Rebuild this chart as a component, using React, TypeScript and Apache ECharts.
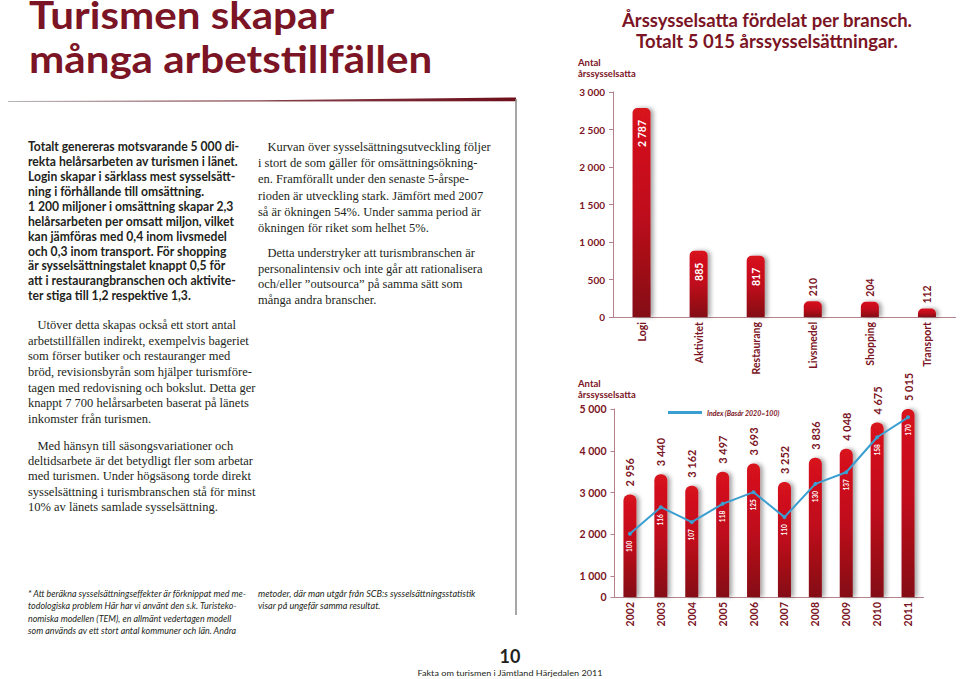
import React, { useEffect, useRef } from "react";
import * as echarts from "echarts";

const sectorCategories = ["Logi", "Aktivitet", "Restaurang", "Livsmedel", "Shopping", "Transport"];
const sectorValues = [2787, 885, 817, 210, 204, 112];
const sectorInsideLabel = [true, true, true, false, false, false];

const years = ["2002", "2003", "2004", "2005", "2006", "2007", "2008", "2009", "2010", "2011"];
const employedValues = [2956, 3440, 3162, 3497, 3693, 3252, 3836, 4048, 4675, 5015];
const indexValues = [100, 116, 107, 118, 125, 110, 130, 137, 158, 170];
const yearAxisLabels = [500, 1000, 2000, 3000, 4000, 5000]; // 500 is the axis floor, shown as "0"

const pageTitle = ["Turismen skapar", "många arbetstillfällen"];
const chartTitle = ["Årssysselsatta fördelat per bransch.", "Totalt 5 015 årssysselsättningar."];
const axisName = "Antal\nårssysselsatta";
const legendName = "Index (Basår 2020=100)";

const boldParagraph = [
  "Totalt genereras motsvarande 5 000 di-",
  "rekta helårsarbeten av turismen i länet.",
  "Login skapar i särklass mest sysselsätt-",
  "ning i förhållande till omsättning.",
  "1 200 miljoner i omsättning skapar 2,3",
  "helårsarbeten per omsatt miljon, vilket",
  "kan jämföras med 0,4 inom livsmedel",
  "och 0,3 inom transport. För shopping",
  "är sysselsättningstalet knappt 0,5 för",
  "att i restaurangbranschen och aktivite-",
  "ter stiga till 1,2 respektive 1,3.",
];
const middleParagraph1 = [
  "   Kurvan över sysselsättningsutveckling följer",
  "i stort de som gäller för omsättningsökning-",
  "en. Framförallt under den senaste 5-årspe-",
  "rioden är utveckling stark. Jämfört med 2007",
  "så är ökningen 54%. Under samma period är",
  "ökningen för riket som helhet 5%.",
];
const middleParagraph2 = [
  "   Detta understryker att turismbranschen är",
  "personalintensiv och inte går att rationalisera",
  "och/eller ”outsourca” på samma sätt som",
  "många andra branscher.",
];
const leftParagraph1 = [
  "   Utöver detta skapas också ett stort antal",
  "arbetstillfällen indirekt, exempelvis bageriet",
  "som förser butiker och restauranger med",
  "bröd, revisionsbyrån som hjälper turismföre-",
  "tagen med redovisning och bokslut. Detta ger",
  "knappt 7 700 helårsarbeten baserat på länets",
  "inkomster från turismen.",
];
const leftParagraph2 = [
  "   Med hänsyn till säsongsvariationer och",
  "deltidsarbete är det betydligt fler som arbetar",
  "med turismen. Under högsäsong torde direkt",
  "sysselsättning i turismbranschen stå för minst",
  "10% av länets samlade sysselsättning.",
];
const footnote1 = [
  "* Att beräkna sysselsättningseffekter är förknippat med me-",
  "todologiska problem Här har vi använt den s.k. Turisteko-",
  "nomiska modellen (TEM), en allmänt vedertagen modell",
  "som används av ett stort antal kommuner och län. Andra",
];
const footnote2 = [
  "metoder, där man utgår från SCB:s sysselsättningsstatistik",
  "visar på ungefär samma resultat.",
];
const pageNumber = "10";
const footerText = "Fakta om turismen i Jämtland Härjedalen 2011";

const MAROON = "#7b1424";
const AXIS = "#b5828b";
const TEXT = "#231f20";
const SANS = "Lato, 'Open Sans', sans-serif";
const SERIF = "'Liberation Serif', 'DejaVu Serif', serif";

const fmt = (v: number) => String(v).replace(/\B(?=(\d{3})+(?!\d))/g, " ");

const barGradient = () =>
  new echarts.graphic.LinearGradient(0, 0, 0, 1, [
    { offset: 0, color: "#d8121f" },
    { offset: 0.5, color: "#bf0e1b" },
    { offset: 1, color: "#840b15" },
  ]);

function textBlock(lines: string[], x: number, firstCenterY: number, lh: number, font: any) {
  return {
    type: "text",
    x,
    y: firstCenterY - lh / 2,
    scaleX: font.scaleX || 1,
    silent: true,
    style: {
      text: lines.join("\n"),
      lineHeight: lh,
      fill: font.fill || TEXT,
      fontSize: font.fontSize,
      fontWeight: font.fontWeight || "normal",
      fontStyle: font.fontStyle || "normal",
      fontFamily: font.fontFamily,
      textAlign: font.textAlign || "left",
      textVerticalAlign: "top",
    },
  };
}

export default function App() {
  const ref = useRef<HTMLDivElement>(null);

  useEffect(() => {
    if (!ref.current) return;
    const chart = echarts.init(ref.current, null, { renderer: "svg" });

    const axisLabelStyle = { color: MAROON, fontFamily: SANS, fontWeight: "bold", fontSize: 10 };

    const option: any = {
      animation: false,
      backgroundColor: "#ffffff",
      legend: {
        data: [legendName],
        left: 663,
        top: 404,
        icon: "rect",
        itemWidth: 34,
        itemHeight: 3,
        itemGap: 4,
        textStyle: { color: MAROON, fontSize: 7, fontStyle: "italic", fontWeight: "bold", fontFamily: SANS },
      },
      grid: [
        { left: 613, top: 92, width: 342.5, height: 225 },
        { left: 614.5, top: 409, width: 309, height: 188 },
      ],
      xAxis: [
        {
          type: "category",
          gridIndex: 0,
          data: sectorCategories,
          axisLine: { lineStyle: { color: AXIS, width: 1 } },
          axisTick: { show: false },
          axisLabel: { ...axisLabelStyle, fontSize: 10.5, rotate: 90, margin: 5 },
        },
        {
          type: "category",
          gridIndex: 1,
          data: years,
          axisLine: { lineStyle: { color: AXIS, width: 1 } },
          axisTick: { show: false },
          axisLabel: { ...axisLabelStyle, fontSize: 10.5, rotate: 90, margin: 5 },
        },
      ],
      yAxis: [
        {
          type: "value",
          gridIndex: 0,
          min: 0,
          max: 3000,
          interval: 500,
          splitLine: { show: false },
          axisLine: { show: true, lineStyle: { color: AXIS, width: 1 } },
          axisTick: { show: true, length: 4, lineStyle: { color: AXIS } },
          axisLabel: { ...axisLabelStyle, margin: 8, formatter: (v: number) => fmt(v) },
        },
        {
          type: "value",
          gridIndex: 1,
          min: 500,
          max: 5000,
          interval: 500,
          splitLine: { show: false },
          axisLine: { show: true, lineStyle: { color: AXIS, width: 1 } },
          axisTick: { show: true, length: 4, lineStyle: { color: AXIS }, customValues: yearAxisLabels },
          axisLabel: {
            ...axisLabelStyle,
            fontSize: 10.5,
            margin: 8,
            customValues: yearAxisLabels,
            formatter: (v: number) => (v === 500 ? "0" : v % 1000 === 0 ? fmt(v) : ""),
          },
        },
        {
          type: "value",
          gridIndex: 1,
          min: 62,
          max: 175,
          show: false,
          splitLine: { show: false },
        },
      ],
      series: [
        {
          type: "bar",
          name: "Bransch",
          xAxisIndex: 0,
          yAxisIndex: 0,
          barWidth: 18,
          data: sectorValues.map((v, i) =>
            sectorInsideLabel[i]
              ? { value: v, label: { position: "insideTop", align: "right", distance: 12, color: "#ffffff" } }
              : { value: v }
          ),
          itemStyle: {
            color: barGradient(),
            borderRadius: [5, 5, 0, 0],
            shadowBlur: 4,
            shadowColor: "rgba(0,0,0,0.35)",
            shadowOffsetX: 3,
          },
          label: {
            show: true,
            position: "top",
            rotate: 90,
            align: "left",
            verticalAlign: "middle",
            distance: 5,
            color: MAROON,
            fontFamily: SANS,
            fontWeight: "bold",
            fontSize: 10.5,
            formatter: (p: any) => fmt(p.value),
          },
        },
        {
          type: "bar",
          name: "Antal",
          xAxisIndex: 1,
          yAxisIndex: 1,
          barWidth: 13,
          data: employedValues,
          itemStyle: {
            color: barGradient(),
            borderRadius: [6, 6, 0, 0],
            shadowBlur: 4,
            shadowColor: "rgba(0,0,0,0.35)",
            shadowOffsetX: 3,
          },
          label: {
            show: true,
            position: "top",
            rotate: 90,
            align: "left",
            verticalAlign: "middle",
            distance: 8,
            color: MAROON,
            fontFamily: SANS,
            fontWeight: "bold",
            fontSize: 11,
            formatter: (p: any) => fmt(p.value),
          },
        },
        {
          type: "line",
          name: legendName,
          xAxisIndex: 1,
          yAxisIndex: 2,
          data: indexValues,
          z: 5,
          symbol: "circle",
          symbolSize: 4,
          lineStyle: { color: "#3a9fd0", width: 2 },
          itemStyle: { color: "#3a9fd0" },
          label: {
            show: true,
            position: "bottom",
            rotate: 90,
            align: "right",
            verticalAlign: "middle",
            distance: 5,
            color: "#ffffff",
            fontFamily: SANS,
            fontWeight: "bold",
            fontSize: 6.5,
          },
        },
      ],
      graphic: [
        textBlock([pageTitle[0]], 29, 14, 30, { fontSize: 39, fontWeight: "bold", fontFamily: SANS, fill: MAROON, scaleX: 1.08 }),
        textBlock([pageTitle[1]], 29, 58, 30, { fontSize: 39, fontWeight: "bold", fontFamily: SANS, fill: MAROON, scaleX: 1.08 }),
        {
          type: "polygon",
          silent: true,
          shape: { points: [[8, 101], [260, 100.2], [516, 97.5], [516, 101.2], [260, 101.6], [8, 102]] },
          style: {
            fill: new echarts.graphic.LinearGradient(0, 0, 1, 0, [
              { offset: 0, color: "#b8b8b8" },
              { offset: 0.35, color: "#8a5058" },
              { offset: 1, color: "#6e0f1c" },
            ]),
          },
        },
        {
          type: "line",
          silent: true,
          shape: { x1: 516, y1: 99, x2: 516, y2: 615 },
          style: { stroke: "#8a8a8a", lineWidth: 1.5 },
        },
        textBlock(chartTitle, 767, 20, 21, {
          fontSize: 18.5,
          fontWeight: "bold",
          fontFamily: SANS,
          fill: MAROON,
          textAlign: "center",
        }),
        textBlock([axisName], 578, 62, 11.5, { fontSize: 9.5, fontWeight: "bold", fontFamily: SANS, fill: MAROON }),
        textBlock([axisName], 578, 383, 11.5, { fontSize: 9.5, fontWeight: "bold", fontFamily: SANS, fill: MAROON }),
        textBlock(boldParagraph, 28, 146, 14.9, { fontSize: 13.5, fontWeight: "bold", fontFamily: SANS, scaleX: 0.9 }),
        textBlock(middleParagraph1, 258, 147, 16.2, { fontSize: 12.5, fontFamily: SERIF }),
        textBlock(middleParagraph2, 258, 253, 15.5, { fontSize: 12.5, fontFamily: SERIF }),
        textBlock(leftParagraph1, 28, 325, 15.7, { fontSize: 12.5, fontFamily: SERIF }),
        textBlock(leftParagraph2, 28, 446, 15.2, { fontSize: 12.5, fontFamily: SERIF }),
        textBlock(footnote1, 28, 593, 12.6, { fontSize: 9.5, fontStyle: "italic", fontFamily: SANS, scaleX: 0.94 }),
        textBlock(footnote2, 258, 593, 12.6, { fontSize: 9.5, fontStyle: "italic", fontFamily: SANS, scaleX: 0.96 }),
        textBlock([pageNumber], 510, 656, 20, { fontSize: 18, fontWeight: "bold", fontFamily: SANS, textAlign: "center" }),
        {
          ...textBlock([footerText], 0, 673, 10, { fontSize: 8.5, fontFamily: SANS, textAlign: "center", scaleX: 1.07 }),
          x: 510,
        },
      ],
    };

    chart.setOption(option);
    return () => chart.dispose();
  }, []);

  return (
    <div
      ref={ref}
      style={{ position: "absolute", left: 0, top: 0, width: 960, height: 679 }}
    />
  );
}
